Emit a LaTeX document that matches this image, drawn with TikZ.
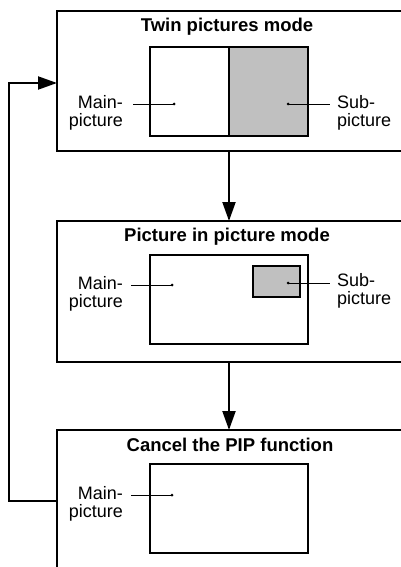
\documentclass[tikz,border=0pt]{standalone}
\usepackage{fontspec}
\setmainfont{Liberation Sans}
\usetikzlibrary{arrows.meta,positioning}
\definecolor{subgrey}{HTML}{C0C0C0}
\tikzset{
  modebox/.style={draw, line width=2pt, anchor=north west, minimum width=420pt, inner sep=0pt, outer sep=0pt},
  screen/.style={draw, line width=2pt, minimum width=158pt, minimum height=89pt, inner sep=0pt, outer sep=0pt},
  half/.style={screen, minimum width=79pt},
  inset/.style={draw, line width=1.5pt, fill=subgrey, minimum width=47pt, minimum height=31pt, inner sep=0pt},
  modetitle/.style={font=\bfseries\fontsize{18.5}{18}\selectfont, anchor=base, inner sep=0pt},
  lbl/.style={font=\fontsize{18}{18}\selectfont, inner sep=0pt},
  ptr/.style={line width=0.8pt},
  flow/.style={line width=2pt, ->}
}
\begin{document}
\begin{tikzpicture}[x=1pt, y=-1pt, >={Triangle[length=19pt,width=13pt]}]
        \clip (0,0) rectangle (401,567);
        \node[modebox, minimum height=140pt] (twin) at (57,11) {};
        \node[modebox, minimum height=141pt] (pip) at (57,221) {};
        \node[modebox, minimum height=200pt] (cancel) at (57,430) {};

        \node[modetitle] (twint) at (227,32) {Twin pictures mode};
        \node[modetitle] (pipt) at (227,241.5) {Picture in picture mode};
        \node[modetitle] (cancelt) at (230,451) {Cancel the PIP function};

        \node[half] (main1) at (189.5,91.5) {};
        \node[half, fill=subgrey, right=0pt of main1] (sub1) {};
        \node[screen] (scr2) at (229,299) {};
        \node[inset] (inset2) at (276.5,281.5) {};
        \node[screen] (scr3) at (229,508.5) {};

        \coordinate (main1dot) at (174,104);
        \coordinate (sub1dot) at (288,104);
        \coordinate (main2dot) at (172,285);
        \coordinate (sub2dot) at (288,283);
        \coordinate (main3dot) at (172,495);
        \foreach \d in {main1dot,sub1dot,main2dot,sub2dot,main3dot}
            \fill (\d) circle (1.5pt);

        \node[lbl, align=right, anchor=north east] (main1t) at (123,95.5) {Main-\\picture};
        \draw[ptr] ([xshift=10pt]main1t.east |- main1dot) -- (main1dot);
        \node[lbl, align=left, anchor=north west] (sub1t) at (337,95.5) {Sub-\\picture};
        \draw[ptr] (sub1dot) -- ([xshift=-7pt]sub1t.west |- sub1dot);

        \node[lbl, align=right, anchor=north east] (main2t) at (123,276) {Main-\\picture};
        \draw[ptr] ([xshift=8pt]main2t.east |- main2dot) -- (main2dot);
        \node[lbl, align=left, anchor=north west] (sub2t) at (337,273.5) {Sub-\\picture};
        \draw[ptr] (sub2dot) -- ([xshift=-7pt]sub2t.west |- sub2dot);

        \node[lbl, align=right, anchor=north east] (main3t) at (123,486.5) {Main-\\picture};
        \draw[ptr] ([xshift=8pt]main3t.east |- main3dot) -- (main3dot);

        \draw[flow] (twin.south -| main1.east) -- (pip.north -| main1.east);
        \draw[flow] (pip.south -| main1.east) -- (cancel.north -| main1.east);
        \coordinate (loop) at (9,300);
        \draw[flow] ([yshift=-71pt]cancel.north west) -| (loop) |- ([yshift=-72pt]twin.north west);
\end{tikzpicture}
\end{document}
